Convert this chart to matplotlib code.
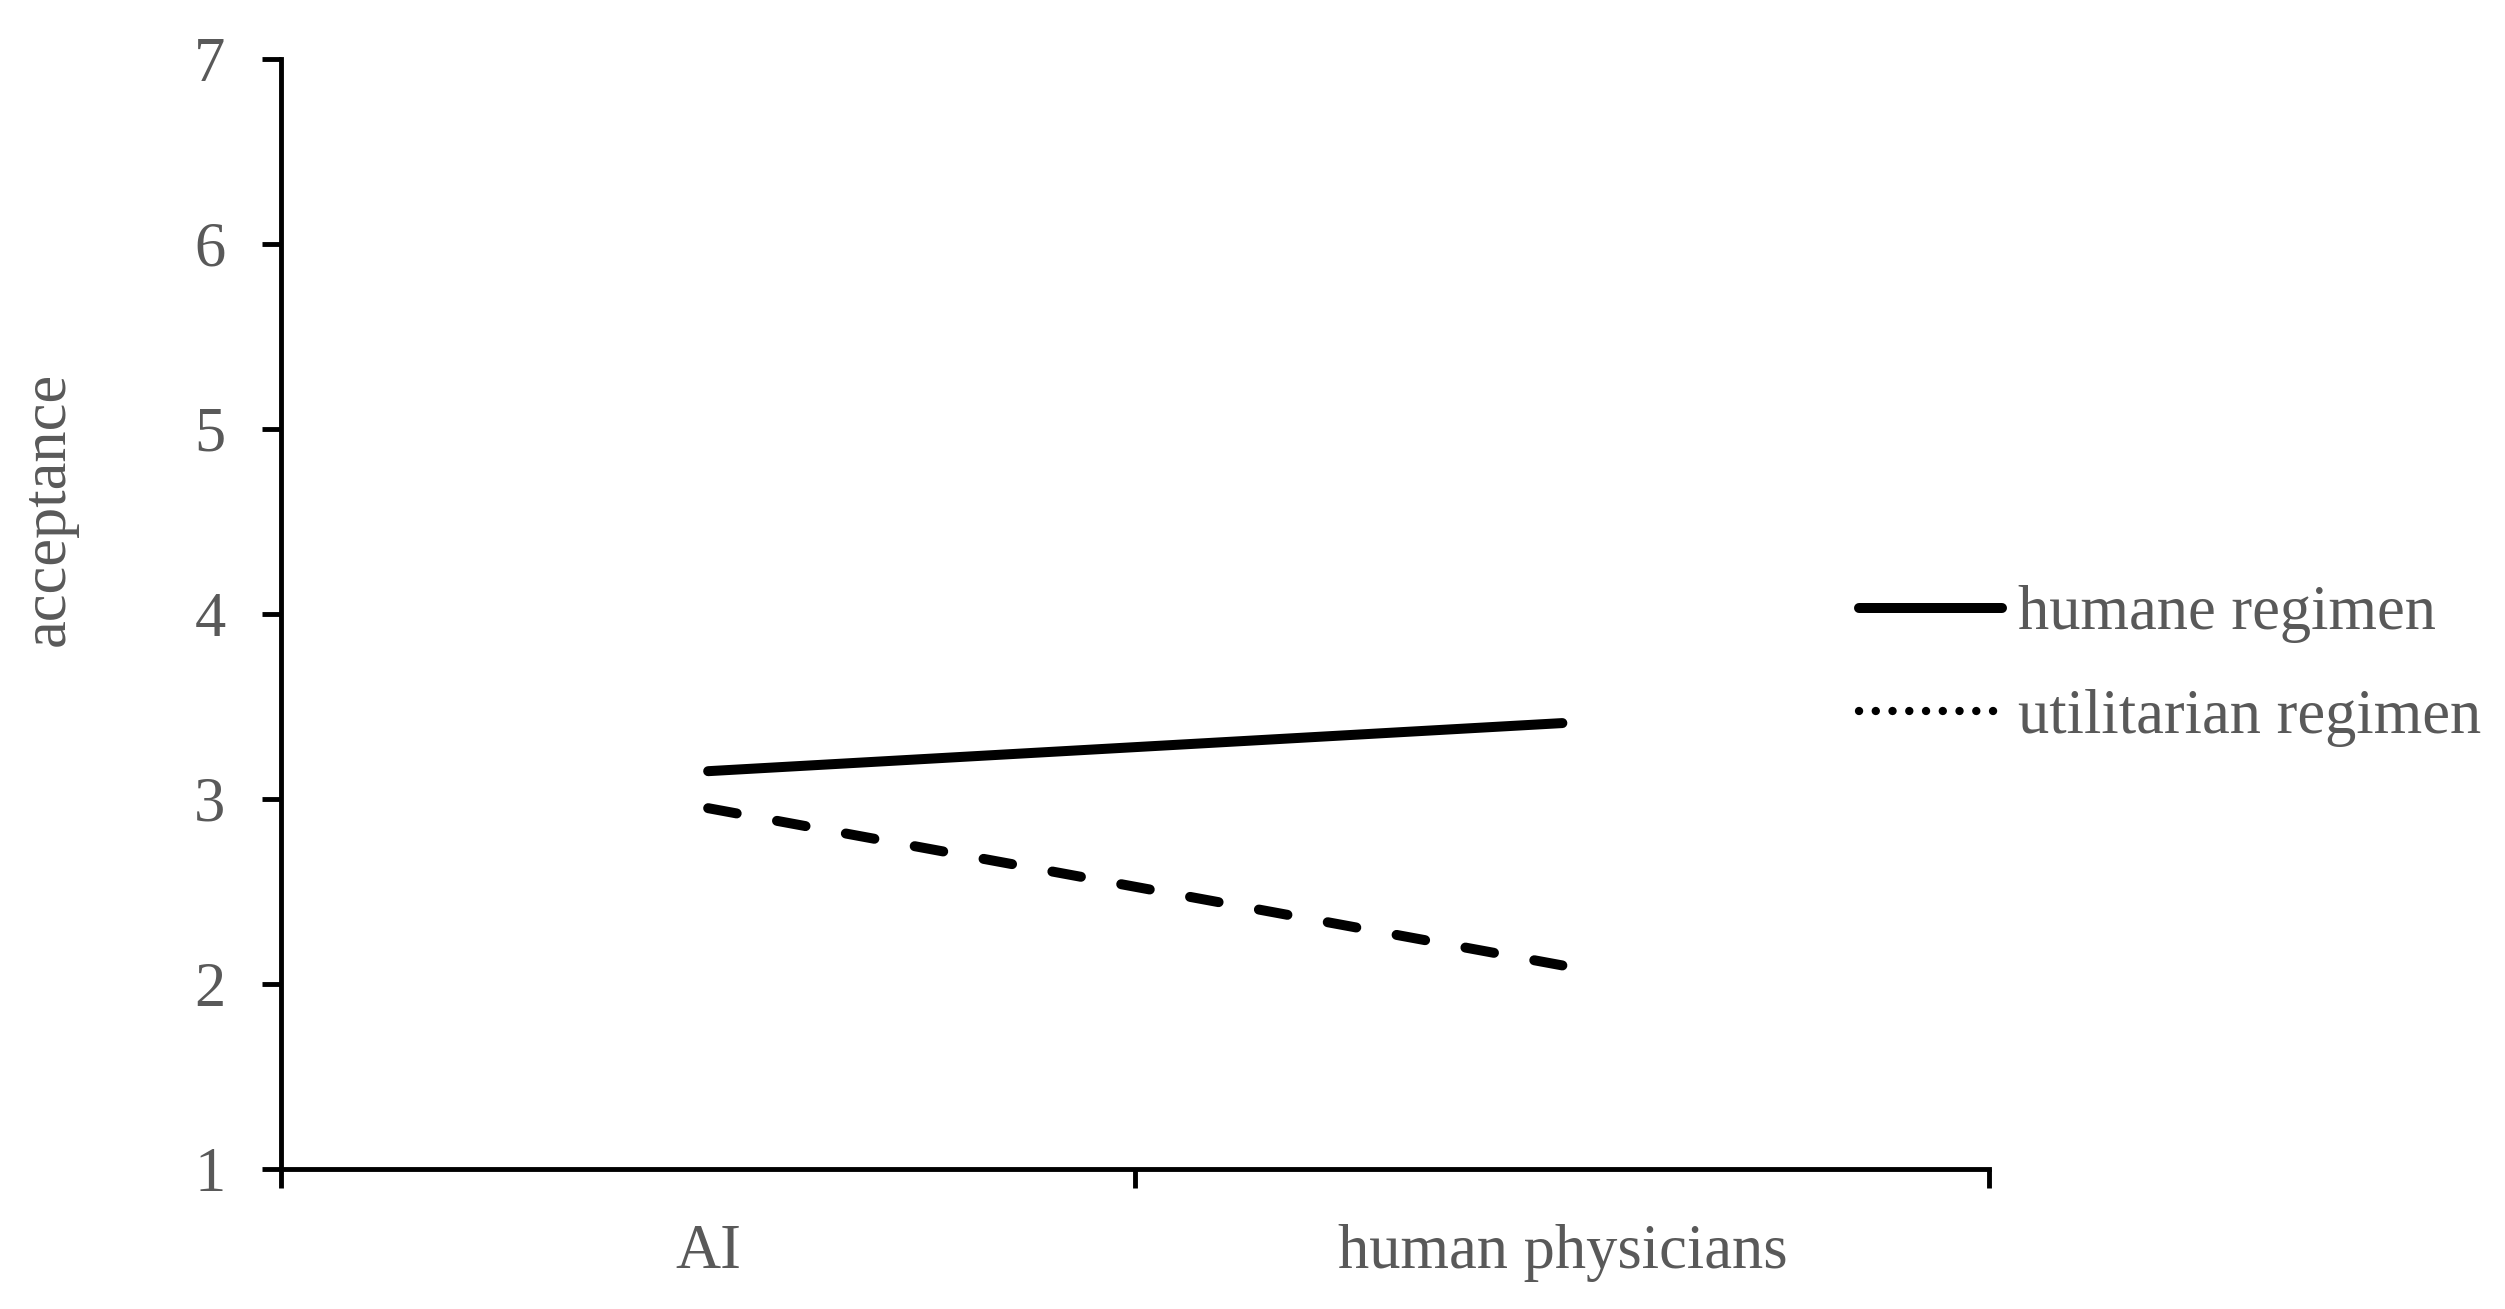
import matplotlib
matplotlib.use("Agg")
import matplotlib.pyplot as plt
from matplotlib.lines import Line2D

plt.rcParams['font.family'] = ['Liberation Serif', 'DejaVu Serif']

categories = ["AI", "human physicians"]
humane = [3.15, 3.41]
utilitarian = [2.95, 2.10]
series_labels = ["humane regimen", "utilitarian regimen"]
yticks = [1, 2, 3, 4, 5, 6, 7]

grey = '#595959'
fs = 45

fig = plt.figure(figsize=(25.05, 13.09), dpi=100)
ax = fig.add_axes([0.1122, 0.107, 0.682, 0.848])

xpos = [i + 0.5 for i in range(len(categories))]
ax.plot(xpos, humane, color='black', lw=7.2, solid_capstyle='round')
ax.plot(xpos, utilitarian, color='black', lw=7.2, dashes=(2.9, 4.1),
        dash_capstyle='round')

ax.set_xlim(0, len(categories))
ax.set_ylim(1, 7)
ax.set_yticks(yticks)
ax.set_xticks(range(len(categories) + 1))
ax.set_xticklabels([])
ax.set_xticks(xpos, minor=True)
ax.set_xticklabels(categories, minor=True)

for s in ['top', 'right']:
    ax.spines[s].set_visible(False)
for s in ['left', 'bottom']:
    ax.spines[s].set_linewidth(3.5)

ax.tick_params(axis='y', length=14, width=3.5, pad=26, labelsize=fs, labelcolor=grey)
ax.tick_params(axis='x', which='major', length=14, width=3.5, direction='out')
ax.tick_params(axis='x', which='minor', length=0, pad=40, labelsize=fs, labelcolor=grey)

ax.set_ylabel("acceptance", fontsize=fs, color=grey)
ax.yaxis.set_label_coords(-0.119, 0.595)

handles = [Line2D([], [], color='black', lw=7.2, solid_capstyle='round'),
           Line2D([], [], color='black', lw=6, dashes=(0.01, 2.0),
                  dash_capstyle='round')]
fig.legend(handles, series_labels, loc='center left',
           bbox_to_anchor=(0.7197, 0.491), frameon=False, fontsize=fs,
           handlelength=2.28, handletextpad=0.26, labelspacing=0.73,
           labelcolor=grey)

fig.savefig("out.png", dpi=100)
